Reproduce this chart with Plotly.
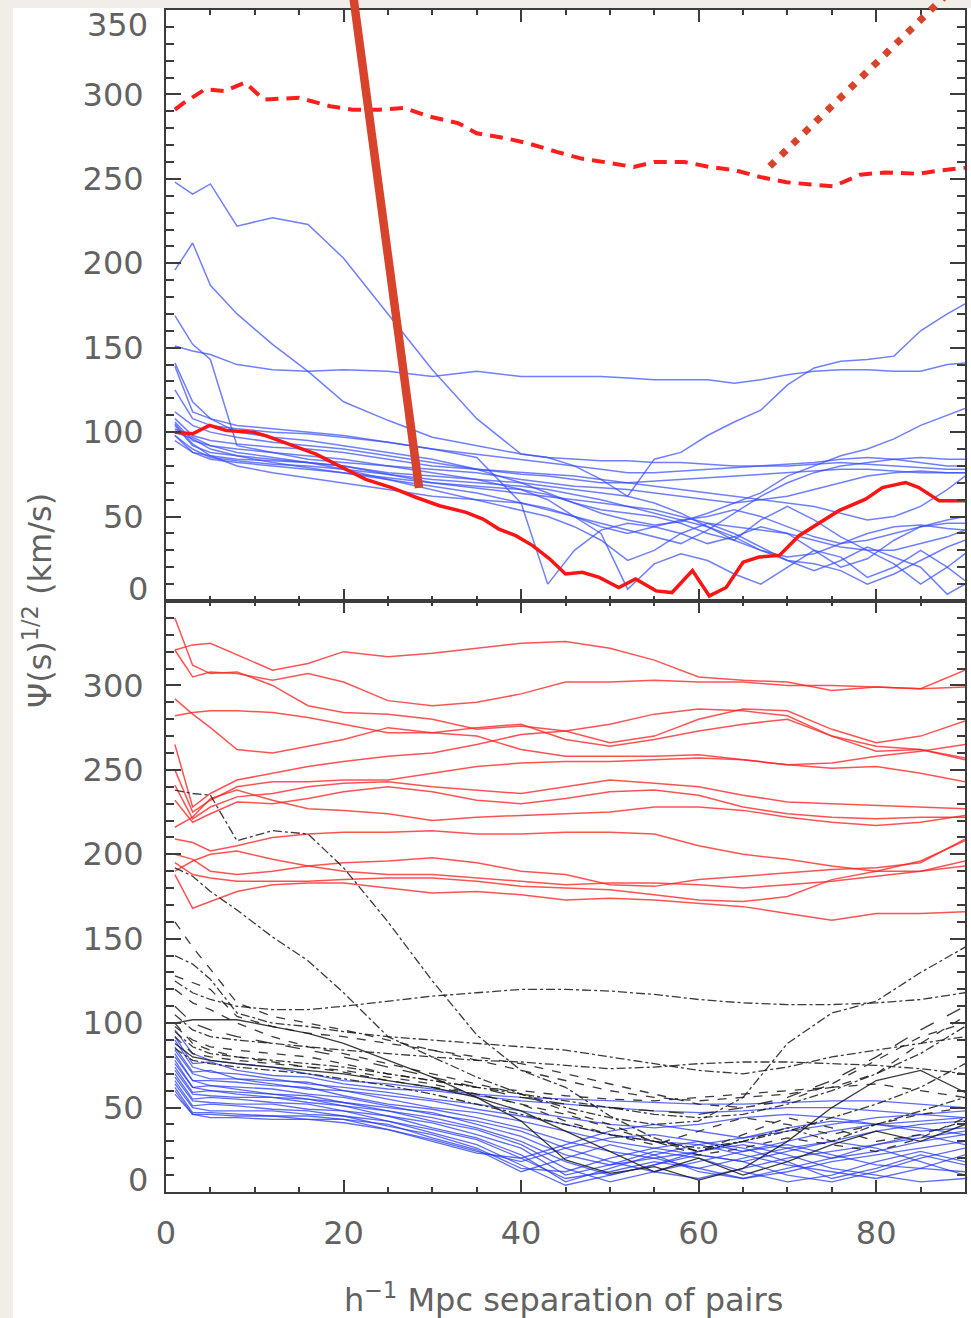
import plotly.graph_objects as go

# ---------------------------------------------------------------- data ----
# separation grids (h^-1 Mpc)
GRID_TOP = [1, 3, 5, 8, 12, 16, 20, 25, 30, 35, 40, 43, 46, 49, 52, 55, 58,
            61, 64, 67, 70, 73, 76, 79, 82, 85, 88, 90]
GRID_BOT = [1, 3, 5, 8, 12, 16, 20, 25, 30, 35, 40, 45, 50, 55, 60, 65, 70,
            75, 80, 85, 90]

# upper panel: individual fields (blue), on GRID_TOP
TOP_BLUE = [
    [248, 241, 247, 222, 227, 223, 203, 170, 137, 108, 87, 85, 80, 72, 62, 84, 88, 98, 106, 113, 128, 138, 142, 143, 145, 160, 170, 176],
    [196, 212, 187, 170, 152, 136, 118, 107, 97, 92, 87, 85, 84, 83, 83, 82, 82, 81, 80, 80, 80, 81, 82, 81, 80, 79, 78, 78],
    [169, 152, 143, 92, 88, 84, 82, 80, 78, 76, 72, 70, 68, 67, 66, 64, 62, 60, 58, 60, 62, 66, 70, 74, 76, 77, 76, 76],
    [151, 148, 146, 140, 137, 136, 137, 136, 133, 136, 133, 133, 133, 133, 132, 131, 131, 131, 129, 131, 134, 136, 137, 137, 136, 136, 140, 141],
    [141, 118, 108, 100, 97, 95, 92, 88, 84, 78, 70, 64, 58, 52, 48, 45, 47, 52, 58, 64, 74, 80, 86, 90, 96, 104, 110, 114],
    [139, 112, 108, 104, 102, 100, 98, 94, 90, 85, 58, 10, 30, 42, 46, 44, 40, 34, 38, 44, 40, 30, 20, 25, 36, 44, 48, 50],
    [125, 108, 104, 102, 100, 99, 97, 94, 90, 87, 84, 82, 80, 78, 76, 76, 77, 78, 79, 80, 81, 82, 84, 85, 84, 82, 80, 80],
    [112, 104, 100, 97, 94, 92, 90, 86, 82, 78, 75, 74, 72, 70, 70, 71, 72, 73, 74, 75, 76, 77, 78, 78, 77, 76, 76, 76],
    [106, 95, 92, 90, 88, 86, 84, 80, 76, 72, 66, 60, 50, 44, 40, 44, 48, 44, 36, 30, 26, 28, 34, 40, 44, 45, 43, 42],
    [104, 92, 88, 86, 84, 82, 80, 75, 70, 68, 66, 63, 58, 54, 52, 50, 46, 40, 36, 48, 56, 48, 38, 30, 22, 10, 20, 28],
    [100, 96, 90, 86, 82, 79, 76, 72, 68, 64, 58, 54, 50, 46, 42, 38, 34, 42, 52, 62, 70, 76, 80, 82, 84, 85, 84, 84],
    [98, 88, 84, 82, 80, 78, 76, 73, 70, 67, 64, 62, 60, 58, 56, 54, 50, 46, 44, 42, 40, 36, 32, 30, 30, 34, 38, 42],
    [105, 93, 86, 80, 76, 73, 70, 66, 62, 60, 58, 55, 50, 40, 7, 22, 28, 24, 16, 10, 20, 30, 26, 14, 20, 30, 20, 12],
    [98, 90, 85, 83, 81, 80, 78, 75, 72, 70, 68, 66, 63, 60, 56, 52, 48, 50, 54, 50, 44, 38, 34, 36, 40, 44, 46, 46],
    [102, 97, 92, 88, 85, 82, 78, 72, 66, 60, 54, 50, 44, 36, 24, 30, 40, 46, 40, 32, 24, 18, 24, 32, 26, 20, 4, 10],
    [95, 88, 86, 84, 83, 82, 80, 76, 74, 72, 70, 68, 66, 64, 62, 58, 52, 44, 38, 30, 24, 22, 18, 10, 16, 24, 32, 36],
    [108, 98, 95, 93, 91, 90, 88, 84, 80, 78, 76, 75, 74, 72, 70, 68, 66, 64, 62, 60, 58, 56, 52, 48, 50, 56, 66, 74],
]

# upper panel: combined sample (red solid)
TOP_RED_X = [1, 3, 4.9, 6.8, 9.8, 11.3, 14.3, 16.9, 19.5, 22.5, 25.5, 28.2, 30.8, 33.8,
             35.7, 37.5, 39.4, 41.3, 43.2, 45, 46.9, 48.8, 51, 52.9, 55.2, 57, 59.3,
             61.2, 63.1, 65, 66.8, 69.1, 71.3, 73.6, 75.8, 78.8, 80.7, 83.3, 84.8, 87.1, 90]
TOP_RED_Y = [100, 99, 104, 101, 100, 97.8, 92, 87, 80, 72, 67, 61.3, 56.4, 52.5,
             48.5, 42.6, 38.7, 32.8, 25, 16, 17, 14, 8, 13, 6, 5, 18,
             3, 8, 23, 26, 27, 38.7, 46.5, 53.5, 60.3, 67.2, 70.2, 67.2, 59.3, 59.3]

# upper panel: model expectation (red dashed)
TOP_DASH_X = [1, 2, 4.4, 6.6, 8.9, 11, 15, 18.5, 21, 24, 26.8, 29.6, 32.9, 35, 38.3,
              40.8, 44, 46.8, 49.8, 52.7, 55, 58.4, 61.3, 64.2, 67, 69.9, 72.7, 75.2,
              78.2, 81, 84.7, 87.2, 90]
TOP_DASH_Y = [291, 295, 303, 302, 307, 297, 298, 293, 291, 291, 292, 287, 283, 277, 274,
              271, 266, 262, 259.6, 257, 260, 260, 257, 255, 251, 248, 246.6, 245.6,
              252.5, 253.8, 253, 255, 256.6]

# lower panel: model realisations (red), on GRID_BOT
BOT_RED = [
    [321, 324, 325, 318, 309, 313, 320, 317, 319, 322, 325, 326, 322, 315, 305, 303, 302, 297, 299, 298, 309],
    [340, 312, 307, 308, 300, 288, 284, 283, 280, 274, 276, 273, 266, 270, 280, 286, 285, 274, 266, 270, 279],
    [321, 305, 308, 307, 303, 307, 302, 291, 288, 290, 295, 302, 302, 303, 302, 302, 300, 300, 299, 298, 299],
    [292, 283, 275, 262, 260, 264, 268, 275, 272, 275, 277, 268, 264, 268, 273, 277, 280, 270, 261, 262, 256],
    [282, 284, 285, 285, 284, 281, 277, 272, 272, 270, 262, 258, 258, 258, 259, 256, 253, 254, 258, 261, 265],
    [265, 228, 236, 244, 248, 252, 255, 258, 260, 265, 271, 273, 277, 283, 286, 285, 282, 270, 264, 262, 257],
    [250, 225, 232, 240, 243, 243, 244, 244, 248, 252, 254, 255, 255, 256, 257, 256, 253, 251, 252, 248, 243],
    [241, 221, 228, 234, 236, 240, 242, 243, 240, 238, 236, 240, 244, 242, 240, 235, 231, 230, 229, 228, 227],
    [232, 219, 224, 231, 230, 233, 237, 240, 237, 232, 230, 233, 237, 238, 235, 228, 224, 222, 221, 222, 222],
    [216, 222, 233, 238, 232, 227, 226, 224, 220, 222, 223, 224, 225, 228, 228, 226, 222, 219, 217, 219, 223],
    [209, 207, 202, 205, 210, 212, 213, 213, 214, 212, 212, 213, 213, 212, 205, 200, 197, 193, 190, 190, 193],
    [200, 197, 190, 188, 190, 193, 195, 196, 198, 195, 190, 188, 182, 181, 185, 187, 189, 191, 192, 195, 209],
    [195, 188, 186, 184, 184, 184, 185, 186, 186, 184, 181, 180, 179, 176, 173, 172, 175, 185, 190, 196, 208],
    [188, 168, 172, 178, 182, 183, 183, 180, 177, 178, 176, 173, 174, 173, 171, 169, 165, 161, 165, 165, 166],
    [190, 196, 200, 202, 197, 193, 190, 188, 188, 186, 184, 182, 183, 183, 182, 180, 182, 184, 187, 190, 196],
]

# lower panel: mock catalogues (black) and their line styles
BOT_BLACK = [
    [238, 236, 235, 208, 214, 212, 192, 160, 125, 93, 72, 62, 45, 32, 24, 30, 38, 30, 40, 48, 56],
    [125, 118, 114, 110, 108, 108, 110, 113, 116, 118, 120, 120, 119, 117, 114, 112, 111, 111, 112, 114, 118],
    [192, 187, 178, 167, 151, 137, 118, 92, 80, 68, 58, 50, 44, 40, 42, 56, 88, 106, 113, 130, 145],
    [160, 145, 132, 112, 104, 100, 96, 90, 84, 78, 72, 66, 60, 56, 54, 56, 58, 62, 70, 88, 104],
    [140, 135, 126, 106, 100, 98, 95, 92, 90, 88, 86, 84, 80, 76, 72, 70, 74, 80, 84, 88, 92],
    [128, 124, 120, 104, 98, 94, 92, 88, 84, 80, 76, 70, 64, 58, 52, 50, 54, 64, 78, 92, 100],
    [100, 102, 102, 102, 98, 94, 88, 78, 68, 56, 42, 19, 11, 15, 7, 14, 30, 50, 66, 72, 59],
    [105, 96, 92, 90, 88, 86, 84, 82, 80, 78, 77, 75, 73, 74, 76, 77, 77, 76, 75, 73, 70],
    [98, 90, 86, 84, 82, 80, 76, 70, 66, 62, 60, 57, 55, 54, 56, 58, 60, 62, 64, 60, 56],
    [95, 86, 82, 80, 78, 76, 74, 70, 66, 62, 58, 54, 50, 46, 44, 46, 52, 60, 70, 82, 98],
    [92, 82, 80, 78, 76, 74, 72, 68, 64, 58, 52, 42, 34, 28, 36, 44, 40, 34, 40, 46, 50],
    [88, 80, 78, 76, 74, 72, 70, 66, 62, 56, 48, 36, 24, 12, 20, 10, 18, 28, 36, 30, 40],
    [120, 112, 108, 100, 92, 86, 82, 76, 70, 64, 58, 48, 40, 30, 24, 34, 44, 38, 30, 34, 42],
    [85, 78, 76, 74, 72, 70, 67, 63, 58, 52, 46, 40, 34, 30, 26, 30, 36, 44, 52, 62, 76],
    [110, 100, 96, 92, 88, 84, 80, 74, 68, 62, 56, 52, 50, 48, 46, 50, 56, 66, 80, 96, 110],
    [100, 88, 84, 80, 77, 74, 71, 66, 62, 58, 52, 46, 38, 30, 22, 26, 32, 28, 24, 32, 44],
]
BOT_BLACK_DASH = ["dashdot", "dashdot", "dashdot", "dash", "dashdot", "dash", "solid",
                  "dashdot", "dash", "dashdot", "dash", "solid", "dash", "dashdot",
                  "longdash", "dash"]

# lower panel: other sample (blue), on GRID_BOT
BOT_BLUE = [
    [96, 82, 78, 76, 74, 70, 66, 64, 61, 58, 56, 55, 54, 53, 52, 52, 53, 54, 54, 52, 50],
    [92, 76, 77, 72, 69, 68, 64, 61, 60, 57, 54, 52, 50, 48, 47, 48, 50, 50, 48, 46, 48],
    [90, 74, 71, 70, 67, 64, 62, 59, 55, 52, 48, 44, 40, 38, 40, 44, 46, 44, 40, 42, 44],
    [86, 71, 72, 67, 66, 65, 60, 57, 54, 49, 45, 40, 34, 30, 28, 32, 38, 42, 40, 36, 38],
    [84, 70, 67, 67, 64, 61, 60, 55, 50, 47, 42, 36, 30, 26, 22, 18, 24, 30, 36, 40, 42],
    [82, 66, 66, 65, 63, 62, 57, 52, 49, 44, 38, 30, 24, 20, 24, 30, 26, 20, 24, 30, 34],
    [80, 66, 63, 62, 61, 58, 56, 51, 46, 42, 36, 26, 18, 12, 8, 14, 20, 24, 28, 32, 36],
    [78, 62, 63, 61, 58, 57, 53, 50, 47, 40, 33, 22, 16, 20, 14, 8, 12, 18, 22, 26, 30],
    [76, 62, 60, 59, 58, 55, 53, 48, 44, 38, 30, 18, 10, 16, 22, 18, 10, 6, 12, 20, 26],
    [74, 59, 60, 58, 56, 55, 51, 48, 42, 37, 28, 14, 6, 12, 18, 24, 28, 22, 16, 14, 22],
    [72, 58, 57, 56, 56, 53, 51, 45, 41, 34, 26, 10, 16, 24, 20, 12, 6, 10, 18, 24, 18],
    [70, 55, 56, 55, 53, 52, 48, 45, 38, 32, 22, 6, 14, 22, 28, 22, 16, 12, 8, 14, 12],
    [68, 54, 53, 52, 52, 49, 48, 42, 37, 31, 20, 8, 12, 18, 14, 20, 26, 30, 26, 18, 10],
    [66, 51, 52, 51, 49, 48, 45, 42, 35, 28, 16, 4, 10, 16, 24, 28, 22, 14, 10, 6, 8],
    [64, 50, 48, 48, 48, 46, 45, 39, 34, 26, 14, 12, 20, 26, 30, 26, 18, 8, 14, 22, 16],
    [62, 47, 47, 46, 45, 45, 43, 40, 32, 25, 12, 20, 28, 22, 12, 8, 14, 20, 28, 34, 28],
    [60, 46, 46, 45, 45, 43, 43, 37, 31, 24, 18, 26, 32, 34, 30, 24, 30, 36, 40, 38, 34],
    [58, 46, 44, 44, 43, 43, 41, 37, 30, 23, 20, 28, 36, 40, 36, 32, 36, 40, 44, 46, 44],
]

# pointer strokes, in upper-panel units
POINTER_SOLID_X = [21.1, 28.5]
POINTER_SOLID_Y = [358, 67]
POINTER_DOT_X = [68.0, 88.5]
POINTER_DOT_Y = [257.4, 362]

X_TICKS = [0, 20, 40, 60, 80]
Y_TICKS = [50, 100, 150, 200, 250, 300]

# -------------------------------------------------------------- styling ---
W, H = 971, 1318
M_L, M_R, M_T, M_B = 166, 6, 0, 126
PLOT_H = H - M_T - M_B          # 1192
PLOT_W = W - M_L - M_R          # 799
Y_MAX = 350

# panel domains (pixel rows measured from the top of the plotting area)
TOP_PANEL = [(PLOT_H - 601) / PLOT_H, (PLOT_H - 10) / PLOT_H]
BOT_PANEL = [0.0, (PLOT_H - 601) / PLOT_H]

AX_COL = "#3c3c3c"
TXT_COL = "#626262"
FONT = "DejaVu Sans"
FS = 32
BLUE_TOP = "rgba(55,78,255,0.72)"
BLUE_BOT = "rgba(38,58,245,0.75)"
RED_THIN = "rgba(255,35,35,0.78)"
BLACK = "rgba(25,25,25,0.85)"
POINTER = "#d7432b"

fig = go.Figure()


def add_line(x, y, xa, ya, color, width, dash="solid"):
    fig.add_trace(go.Scatter(x=x, y=y, xaxis=xa, yaxis=ya, mode="lines",
                             line=dict(color=color, width=width, dash=dash),
                             hoverinfo="skip", showlegend=False))


# upper panel
for ys in TOP_BLUE:
    add_line(GRID_TOP, ys, "x2", "y2", BLUE_TOP, 1.5)
add_line(TOP_DASH_X, TOP_DASH_Y, "x2", "y2", "#ff1e1e", 4, "13px,8px")
add_line(TOP_RED_X, TOP_RED_Y, "x2", "y2", "#ff1414", 3.5)

# lower panel
for ys in BOT_RED:
    add_line(GRID_BOT, ys, "x", "y", RED_THIN, 1.5)
for ys in BOT_BLUE:
    add_line(GRID_BOT, ys, "x", "y", BLUE_BOT, 1.3)
for ys, d in zip(BOT_BLACK, BOT_BLACK_DASH):
    add_line(GRID_BOT, ys, "x", "y", BLACK, 1.3, d)

# pointer strokes on a transparent overlay sharing the upper panel scale
add_line(POINTER_SOLID_X, POINTER_SOLID_Y, "x3", "y3", POINTER, 8.5)
add_line(POINTER_DOT_X, POINTER_DOT_Y, "x3", "y3", POINTER, 7, "7px,9px")

span = TOP_PANEL[1] - TOP_PANEL[0]
overlay_range = [-TOP_PANEL[0] * Y_MAX / span, Y_MAX + (1 - TOP_PANEL[1]) * Y_MAX / span]

tick_font = dict(family=FONT, size=FS, color=TXT_COL)
common = dict(showline=True, linecolor=AX_COL, linewidth=2, mirror="allticks",
              ticks="inside", tickcolor=AX_COL, tickwidth=1.5, showgrid=False,
              zeroline=False, fixedrange=True)

x_common = dict(common, range=[0, 90], tickmode="array", tickvals=X_TICKS, ticklen=12,
                minor=dict(dtick=5, tick0=0, ticklen=5, ticks="inside",
                           tickcolor=AX_COL, tickwidth=1.5, showgrid=False),
                tickfont=tick_font, ticklabelstandoff=12)
y_common = dict(common, range=[0, Y_MAX], tickmode="array", tickvals=Y_TICKS, ticklen=15,
                minor=dict(dtick=10, tick0=0, ticklen=8, ticks="inside",
                           tickcolor=AX_COL, tickwidth=1.5, showgrid=False),
                tickfont=tick_font, ticklabelstandoff=14)

annotations = [
    dict(text="350", x=-0.02, xref="paper", xanchor="right", y=341, yref="y2",
         yanchor="middle", showarrow=False, font=tick_font),
    dict(text="0", x=-0.02, xref="paper", xanchor="right", y=7, yref="y2",
         yanchor="middle", showarrow=False, font=tick_font),
    dict(text="0", x=-0.02, xref="paper", xanchor="right", y=7, yref="y",
         yanchor="middle", showarrow=False, font=tick_font),
    dict(text="Ψ(s)<sup>1/2</sup> (km/s)", x=(38 - M_L) / PLOT_W, xref="paper",
         xanchor="center", y=TOP_PANEL[0], yref="paper", yanchor="middle",
         textangle=-90, showarrow=False, font=dict(family=FONT, size=FS, color=TXT_COL)),
    dict(text="h<sup>−1</sup> Mpc separation of pairs", x=0.497, xref="paper",
         xanchor="center", y=(PLOT_H - 1298) / PLOT_H, yref="paper", yanchor="middle",
         showarrow=False, font=dict(family=FONT, size=FS, color=TXT_COL)),
]

# white sheet behind the figure, leaving a thin grey border on the left and top
shapes = [dict(type="rect", xref="paper", yref="paper", layer="below",
               x0=(13 - M_L) / PLOT_W, x1=(W - M_L) / PLOT_W,
               y0=(PLOT_H - H) / PLOT_H, y1=(PLOT_H - 8) / PLOT_H,
               fillcolor="white", line=dict(width=0))]

fig.update_layout(
    width=W, height=H,
    margin=dict(l=M_L, r=M_R, t=M_T, b=M_B, pad=0),
    paper_bgcolor="#f1eee9", plot_bgcolor="rgba(0,0,0,0)",
    showlegend=False,
    xaxis=dict(x_common, domain=[0, 1], anchor="y"),
    yaxis=dict(y_common, domain=BOT_PANEL, anchor="x"),
    xaxis2=dict(x_common, domain=[0, 1], anchor="y2", showticklabels=False, matches="x"),
    yaxis2=dict(y_common, domain=TOP_PANEL, anchor="x2"),
    xaxis3=dict(domain=[0, 1], range=[0, 90], anchor="y3", visible=False, fixedrange=True),
    yaxis3=dict(domain=[0, 1], range=overlay_range, anchor="x3", visible=False, fixedrange=True),
    annotations=annotations,
    shapes=shapes,
)

fig.write_html("out.html")
